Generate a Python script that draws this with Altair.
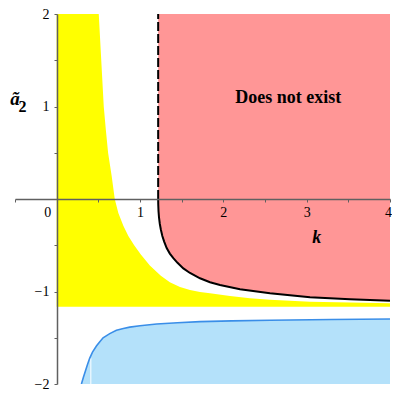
import altair as alt
import pandas as pd

# ---- data ----
x_domain = [-0.5, 4.0]
y_domain = [-2.0, 2.0]

# yellow region: from y = yellow_floor up to the upper boundary
yellow_x = [0.0, 0.505, 0.535, 0.565, 0.59, 0.617, 0.66, 0.697, 0.74, 0.80, 0.86, 0.93,
            1.01, 1.118, 1.25, 1.358, 1.48, 1.6, 1.72, 1.84, 2.08, 2.32, 2.56, 3.04, 3.52, 4.0]
yellow_top = [2.0, 2.0, 1.5, 1.0, 0.75, 0.5, 0.25, 0.0, -0.15, -0.29, -0.4, -0.5,
              -0.6, -0.72, -0.83, -0.9, -0.95, -0.984, -1.005, -1.02, -1.049, -1.074, -1.09, -1.11, -1.12, -1.128]
yellow_floor = -1.165

# red region ("Does not exist"): above the black curve, right of the dashed asymptote
red_x = [1.218, 1.219, 1.222, 1.228, 1.238, 1.25, 1.268, 1.29, 1.32, 1.358, 1.40, 1.45,
         1.52, 1.60, 1.72, 1.84, 1.96, 2.2, 2.56, 3.04, 3.52, 4.0]
red_bottom = [0.0, -0.06, -0.13, -0.2, -0.27, -0.33, -0.4, -0.46, -0.53, -0.59, -0.64, -0.69,
              -0.75, -0.8, -0.857, -0.9, -0.93, -0.976, -1.02, -1.063, -1.085, -1.10]
red_top = 2.0

# blue region: below the blue curve
blue_x = [0.297, 0.32, 0.345, 0.37, 0.397, 0.43, 0.477, 0.52, 0.557, 0.637, 0.717, 0.80,
          0.877, 1.0, 1.2, 1.45, 1.72, 2.1, 2.56, 3.3, 4.0]
blue_top = [-2.0, -1.93, -1.86, -1.79, -1.72, -1.655, -1.59, -1.54, -1.5, -1.455, -1.42, -1.4,
            -1.385, -1.37, -1.352, -1.338, -1.326, -1.318, -1.31, -1.303, -1.297]
blue_floor = -2.0

asymptote_k = 1.218
white_seam_x = 0.41
white_seam_top = -1.72

tick_values_x = [-0.5, 0, 0.5, 1, 1.5, 2, 2.5, 3, 3.5, 4]
tick_values_y = [-2, -1.5, -1, -0.5, 0, 0.5, 1, 1.5, 2]

region_label = "Does not exist"
region_label_pos = (2.78, 1.04)
x_title = "k"
x_title_pos = (3.12, -0.476)
y_title_main = "ã"
y_title_main_pos = (-0.5, 1.016)
y_title_sub = "2"
y_title_sub_pos = (-0.41, 0.94)
zero_label = "0"
zero_label_pos = (-0.108, -0.151)

# ---- styling ----
SERIF = "Liberation Serif"
AXIS_GRAY = "#606060"

xscale = alt.Scale(domain=x_domain, nice=False, zero=False)
yscale = alt.Scale(domain=y_domain, nice=False, zero=False)

xaxis = alt.Axis(values=tick_values_x, offset=-185, title=None, grid=False, format="~g",
                 labelExpr="(datum.value % 1 == 0 && datum.value > 0) ? datum.label : ''",
                 labelOffset={"condition": {"test": "datum.value == 4", "value": -2}, "value": 0},
                 domainColor=AXIS_GRAY, domainWidth=1.5, tickColor=AXIS_GRAY, tickWidth=1,
                 tickSize=3, labelFont=SERIF, labelFontSize=14, labelColor="black",
                 labelPadding=3, labelFlush=False, labelOverlap=False, zindex=1)
yaxis = alt.Axis(values=tick_values_y, offset=-42, title=None, grid=False, format="~g",
                 labelExpr="(datum.value % 1 == 0 && datum.value != 0) ? datum.label : ''",
                 domainColor=AXIS_GRAY, domainWidth=1.5, tickColor=AXIS_GRAY, tickWidth=1,
                 tickSize=3, labelFont=SERIF, labelFontSize=14, labelColor="black",
                 labelPadding=5, labelFlush=False, labelOverlap=False, zindex=1)

X = alt.X("x:Q", scale=xscale, axis=xaxis)
Y = alt.Y("y:Q", scale=yscale, axis=yaxis)

yellow_df = pd.DataFrame({"x": yellow_x, "y": [yellow_floor] * len(yellow_x), "y2": yellow_top})
red_df = pd.DataFrame({"x": red_x, "y": red_bottom, "y2": [red_top] * len(red_x)})
blue_df = pd.DataFrame({"x": blue_x, "y": [blue_floor] * len(blue_x), "y2": blue_top})
blue_line_df = pd.DataFrame({"x": blue_x, "y": blue_top})
black_line_df = pd.DataFrame({"x": red_x, "y": red_bottom})
dash_df = pd.DataFrame({"x": [asymptote_k], "y": [0.0], "y2": [red_top]})
seam_df = pd.DataFrame({"x": [white_seam_x], "y": [blue_floor], "y2": [white_seam_top]})

yellow = alt.Chart(yellow_df).mark_area(color="#FFFF00", opacity=1, clip=True).encode(
    x=X, y=Y, y2="y2:Q")
red = alt.Chart(red_df).mark_area(color="#FF9696", opacity=1, clip=True).encode(
    x=X, y=Y, y2="y2:Q")
blue = alt.Chart(blue_df).mark_area(color="#B4E1FA", opacity=1, clip=True).encode(
    x=X, y=Y, y2="y2:Q")
seam = alt.Chart(seam_df).mark_rule(color="white", strokeWidth=1).encode(
    x=X, y=Y, y2="y2:Q")
blue_line = alt.Chart(blue_line_df).mark_line(color="#3A8EE8", strokeWidth=1.6, clip=True).encode(
    x=X, y=Y)
black_line = alt.Chart(black_line_df).mark_line(color="black", strokeWidth=2, clip=True).encode(
    x=X, y=Y)
dash = alt.Chart(dash_df).mark_rule(color="black", strokeWidth=2, strokeDash=[9, 3]).encode(
    x=X, y=Y, y2="y2:Q")


def label(text, pos, size, weight="bold", style="normal", align="center", baseline="alphabetic"):
    df = pd.DataFrame({"x": [pos[0]], "y": [pos[1]], "t": [text]})
    return alt.Chart(df).mark_text(font=SERIF, fontSize=size, fontWeight=weight, fontStyle=style,
                                   align=align, baseline=baseline, color="black").encode(
        x=X, y=Y, text="t:N")


texts = [
    label(region_label, region_label_pos, 18),
    label(x_title, x_title_pos, 18, style="italic"),
    label(y_title_main, y_title_main_pos, 19, style="italic"),
    label(y_title_sub, y_title_sub_pos, 16),
    label(zero_label, zero_label_pos, 14, weight="normal", baseline="middle"),
]

chart = alt.layer(yellow, red, blue, seam, blue_line, black_line, dash, *texts).properties(
    width=375, height=370,
    autosize=alt.AutoSizeParams(type="none"),
    padding={"left": 7, "top": 6, "right": 2, "bottom": 8},
).configure_view(stroke=None)

chart.save("out.html", embed_options={"renderer": "svg", "actions": False})
